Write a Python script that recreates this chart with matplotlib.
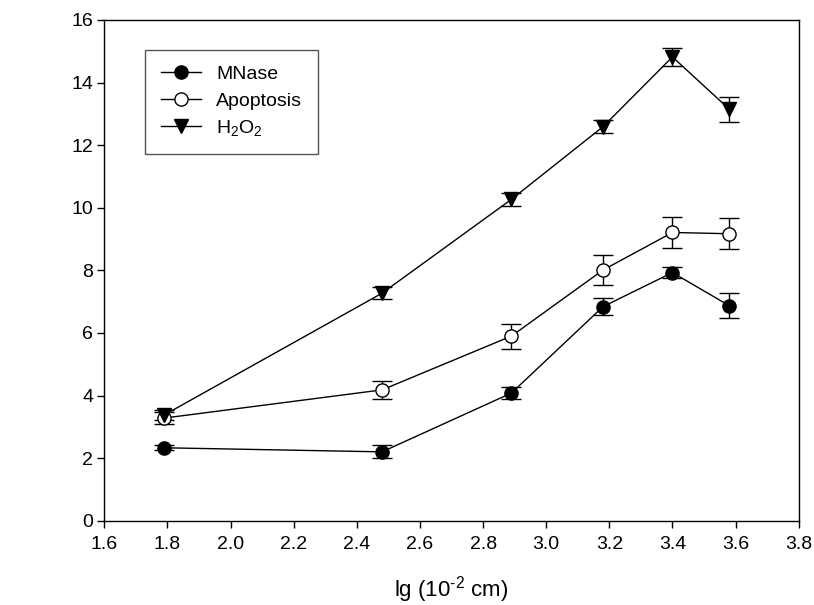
import matplotlib
matplotlib.use("Agg")
import matplotlib.pyplot as plt

plt.rcParams['font.family'] = ['Liberation Sans', 'DejaVu Sans']
plt.rcParams['mathtext.fontset'] = 'custom'
plt.rcParams['mathtext.rm'] = 'Liberation Sans'
plt.rcParams['mathtext.it'] = 'Liberation Sans'

x = [1.79, 2.48, 2.89, 3.18, 3.40, 3.58]
mnase = [2.33, 2.20, 4.08, 6.84, 7.93, 6.87]
mnase_err = [0.08, 0.21, 0.20, 0.27, 0.19, 0.40]
apoptosis = [3.28, 4.18, 5.90, 8.01, 9.21, 9.17]
apoptosis_err = [0.20, 0.30, 0.40, 0.49, 0.50, 0.50]
h2o2 = [3.38, 7.27, 10.27, 12.59, 14.82, 13.15]
h2o2_err = [0.15, 0.20, 0.20, 0.20, 0.30, 0.40]

labels = ['MNase', 'Apoptosis', r'H$_2$O$_2$']
xticks = [1.6, 1.8, 2.0, 2.2, 2.4, 2.6, 2.8, 3.0, 3.2, 3.4, 3.6, 3.8]
yticks = [0, 2, 4, 6, 8, 10, 12, 14, 16]

fig = plt.figure(figsize=(8.14, 6.05), dpi=100)
ax = fig.add_axes([104.3 / 814, 1 - 520.7 / 605, (798.7 - 104.3) / 814, (520.7 - 20) / 605])

common = dict(color='black', lw=1.0, ms=9.5, capsize=7, capthick=1.0, elinewidth=1.0,
              markeredgewidth=1.0, markeredgecolor='black')
ax.errorbar(x, mnase, yerr=mnase_err, fmt='-o', mfc='black', label=labels[0], **common)
ax.errorbar(x, apoptosis, yerr=apoptosis_err, fmt='-o', mfc='white', label=labels[1], **common)
ax.errorbar(x, h2o2, yerr=h2o2_err, fmt='-v', mfc='black', label=labels[2], **common)

ax.set_xlim(1.6, 3.8)
ax.set_ylim(0, 16)
ax.set_xticks(xticks)
ax.set_xticklabels([f'{t:.1f}' for t in xticks])
ax.set_yticks(yticks)
ax.set_yticklabels([str(t) for t in yticks])
ax.tick_params(direction='out', length=5, width=1.0, labelsize=14, top=False, right=False)
ax.tick_params(axis='x', pad=6)
ax.tick_params(axis='y', pad=3)
for s in ax.spines.values():
    s.set_linewidth(1.0)

ax.set_xlabel(r'lg (10$^{\text{-2}}$ cm)', fontsize=16)
ax.xaxis.set_label_coords(0.5, -0.138)
ax.xaxis.label.set_va('center')

handles, lbls = ax.get_legend_handles_labels()
handles = [h[0] for h in handles]
leg = ax.legend(handles, lbls, loc='upper left', bbox_to_anchor=((145 - 104.3) / 694.4, (520.7 - 50) / 500.7),
                fontsize=14, frameon=True, fancybox=False, edgecolor='#555555',
                handlelength=2.06, handletextpad=0.8, labelspacing=0.45, borderpad=0.8,
                borderaxespad=0, framealpha=1)
leg.get_frame().set_linewidth(1.0)

fig.savefig('out.png', dpi=100)
